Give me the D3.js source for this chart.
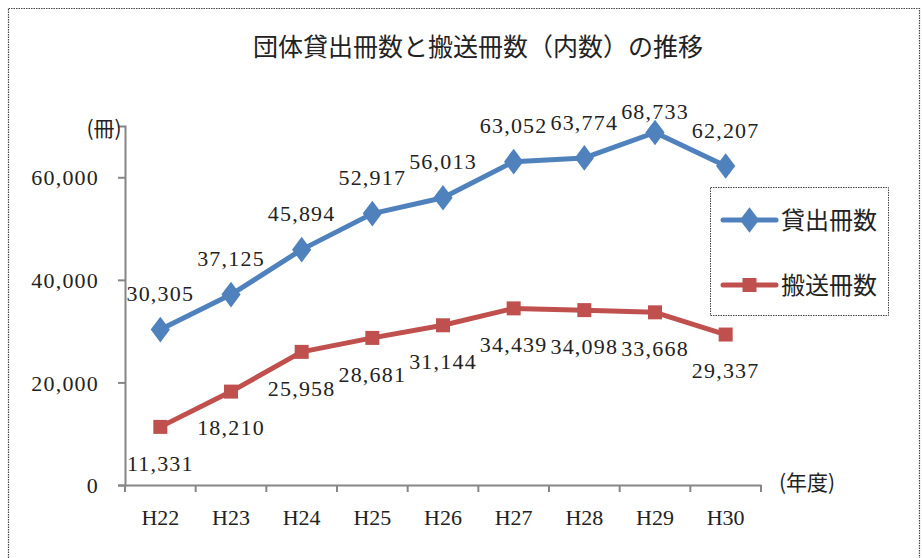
<!DOCTYPE html>
<html><head><meta charset="utf-8">
<script src="https://cdn.jsdelivr.net/npm/d3@7/dist/d3.min.js"></script>
<style>
body{margin:0;background:#fff;}
svg{display:block;}
.num{font-family:"Liberation Serif","DejaVu Serif",serif;}
.jp{font-family:"Noto Sans CJK JP","Noto Sans CJK SC",sans-serif;}
</style></head>
<body><svg id="chart" width="922" height="558"></svg>
<script>
const categories = ["H22","H23","H24","H25","H26","H27","H28","H29","H30"];
const lendingValues = [30305,37125,45894,52917,56013,63052,63774,68733,62207];
const deliveryValues = [11331,18210,25958,28681,31144,34439,34098,33668,29337];
const yTickValues = [0,20000,40000,60000];
const seriesNames = ["貸出冊数","搬送冊数"];
const titleText = "団体貸出冊数と搬送冊数（内数）の推移";
const yUnitText = "(冊)";
const xUnitText = "(年度)";

const svg = d3.select("#chart");
const blue = "#4F81BD", red = "#C0504D", axisCol = "#868686";
const fmt = d3.format(",");

// outer border
svg.append("rect").attr("x",8.5).attr("y",8.5).attr("width",911).attr("height",560)
  .attr("fill","none").attr("stroke","#444").attr("stroke-width",1.2).attr("stroke-dasharray","1.5,1");

// title
svg.append("text").attr("class","jp").attr("x",478).attr("y",56).attr("text-anchor","middle")
  .attr("font-size",25).attr("fill","#222").text(titleText);

const x = d3.scaleBand().domain(categories).range([125,761]).padding(0);
const y = d3.scaleLinear().domain([0,70000]).range([485,126]);

// y axis
const yAxis = d3.axisLeft(y).tickValues(yTickValues).tickSize(7).tickFormat(fmt);
const gy = svg.append("g").attr("transform","translate(125,0)").call(yAxis);
gy.select(".domain").attr("stroke",axisCol).attr("stroke-width",2);
gy.selectAll(".tick line").attr("stroke",axisCol).attr("stroke-width",2);
gy.selectAll(".tick text").attr("class","num").attr("font-size",22).attr("fill","#222")
  .attr("x",-26).attr("letter-spacing",1.2).attr("dy","0.35em");

// x axis
const xAxis = d3.axisBottom(x).tickSize(0);
const gx = svg.append("g").attr("transform","translate(0,485)").call(xAxis);
gx.select(".domain").attr("stroke",axisCol).attr("stroke-width",2);
gx.selectAll(".tick text").attr("class","num").attr("font-size",22).attr("fill","#222").attr("dy",0).attr("y",40);
// boundary ticks
const bounds = categories.map(c=>x(c)).concat([x.range()[1]]);
svg.append("g").selectAll("line").data(bounds).join("line")
  .attr("x1",d=>d).attr("x2",d=>d).attr("y1",485).attr("y2",492)
  .attr("stroke",axisCol).attr("stroke-width",2);

// unit labels
svg.append("text").attr("class","jp").attr("x",104).attr("y",136).attr("text-anchor","middle")
  .attr("font-size",21).attr("fill","#222").text(yUnitText);
svg.append("text").attr("class","jp").attr("x",807).attr("y",490).attr("text-anchor","middle")
  .attr("font-size",21).attr("fill","#222").text(xUnitText);

const cx = c => x(c) + x.bandwidth()/2;
const line = d3.line().x((d,i)=>cx(categories[i])).y(d=>y(d));

// lines
svg.append("path").datum(lendingValues).attr("d",line).attr("fill","none")
  .attr("stroke",blue).attr("stroke-width",5).attr("stroke-linejoin","round");
svg.append("path").datum(deliveryValues).attr("d",line).attr("fill","none")
  .attr("stroke",red).attr("stroke-width",5).attr("stroke-linejoin","round");

// markers
const dia = d3.symbol().type(d3.symbolDiamond).size(190);
svg.append("g").selectAll("path").data(lendingValues).join("path")
  .attr("d",dia).attr("transform",(d,i)=>`translate(${cx(categories[i])},${y(d)}) scale(1.3,1)`)
  .attr("fill",blue);
svg.append("g").selectAll("rect").data(deliveryValues).join("rect")
  .attr("x",(d,i)=>cx(categories[i])-7).attr("y",d=>y(d)-7).attr("width",14).attr("height",14)
  .attr("fill",red);

// data labels
svg.append("g").selectAll("text").data(lendingValues).join("text")
  .attr("class","num").attr("font-size",22).attr("fill","#222").attr("letter-spacing",1.2)
  .attr("text-anchor","middle")
  .attr("x",(d,i)=>cx(categories[i]))
  .attr("y",d=>Math.max(y(d)-36,111)).attr("dy","0.35em").text(d=>fmt(d));
svg.append("g").selectAll("text").data(deliveryValues).join("text")
  .attr("class","num").attr("font-size",22).attr("fill","#222").attr("letter-spacing",1.2)
  .attr("text-anchor","middle")
  .attr("x",(d,i)=>cx(categories[i]))
  .attr("y",d=>y(d)+36).attr("dy","0.35em").text(d=>fmt(d));

// legend
const lg = svg.append("g");
lg.append("rect").attr("x",710.5).attr("y",187.5).attr("width",178).attr("height",128)
  .attr("fill","#fff").attr("stroke","#444").attr("stroke-width",1).attr("stroke-dasharray","1.5,1");
const legendItems = [{name:seriesNames[0],color:blue,shape:"diamond",yy:220},{name:seriesNames[1],color:red,shape:"square",yy:285}];
legendItems.forEach(it=>{
  lg.append("line").attr("x1",723).attr("x2",776).attr("y1",it.yy).attr("y2",it.yy)
    .attr("stroke",it.color).attr("stroke-width",5).attr("stroke-linecap","round");
  if(it.shape==="diamond"){
    lg.append("path").attr("d",dia).attr("transform",`translate(749.5,${it.yy}) scale(1.3,1)`).attr("fill",it.color);
  } else {
    lg.append("rect").attr("x",742.5).attr("y",it.yy-7).attr("width",14).attr("height",14).attr("fill",it.color);
  }
  lg.append("text").attr("class","jp").attr("x",781).attr("y",it.yy).attr("dy","0.36em")
    .attr("font-size",24).attr("fill","#222").text(it.name);
});
</script></body></html>
